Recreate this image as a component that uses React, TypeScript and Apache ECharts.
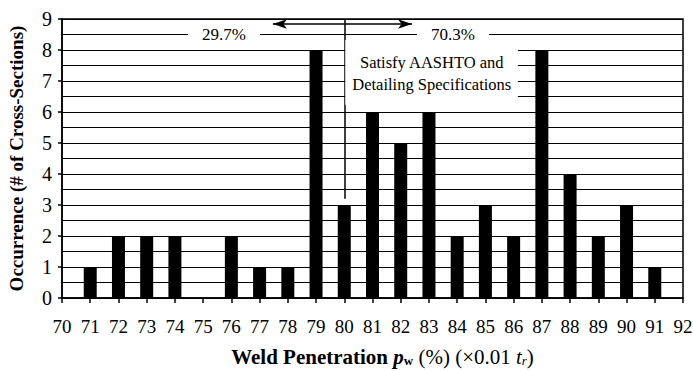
import React, { useEffect, useRef } from "react";
import * as echarts from "echarts";

const penetration = [71, 72, 73, 74, 75, 76, 77, 78, 79, 80, 81, 82, 83, 84, 85, 86, 87, 88, 89, 90, 91];
const occurrence = [1, 2, 2, 2, 0, 2, 1, 1, 8, 3, 6, 5, 6, 2, 3, 2, 8, 4, 2, 3, 1];
const xMin = 70;
const xMax = 92;
const yMax = 9;
const splitValue = 80;
const splitLineBottom = 3.2;
const arrowY = 8.84;
const arrowLeftEnd = 77.47;
const arrowRightEnd = 82.4;
const leftPct = "29.7%";
const rightPct = "70.3%";
const noteLines = ["Satisfy AASHTO and", "Detailing Specifications"];

const SERIF = "'Liberation Serif', 'Times New Roman', serif";

export default function App() {
  const ref = useRef<HTMLDivElement>(null);
  useEffect(() => {
    if (!ref.current) return;
    const chart = echarts.init(ref.current, null, { renderer: "svg" });
    chart.setOption({
      animation: false,
      backgroundColor: "#fff",
      grid: {
        left: 62,
        right: 10,
        top: 19,
        bottom: 73,
        show: true,
        borderColor: "#000",
        borderWidth: 1.5,
        containLabel: false,
        outerBoundsMode: "none",
      },
      xAxis: {
        type: "value",
        min: xMin,
        max: xMax,
        interval: 1,
        axisLine: { show: true, lineStyle: { color: "#000", width: 1.5 } },
        axisTick: { show: true, inside: false, length: 5, lineStyle: { color: "#000", width: 1.5 } },
        axisLabel: { color: "#000", fontFamily: SERIF, fontSize: 19, margin: 19 },
        splitLine: { show: false },
        name: "{b|Weld Penetration }{bi|p}{sub|w}{n| (%) (×0.01 }{i|t}{isub|r}{n|)}",
        nameLocation: "middle",
        nameGap: 48,
        nameTextStyle: {
          color: "#000",
          fontFamily: SERIF,
          padding: [0, 0, 0, 20],
          rich: {
            b: { fontFamily: SERIF, fontWeight: "bold", fontSize: 21, color: "#000" },
            bi: { fontFamily: SERIF, fontWeight: "bold", fontStyle: "italic", fontSize: 21, color: "#000" },
            sub: { fontFamily: SERIF, fontWeight: "bold", fontSize: 13, color: "#000", verticalAlign: "bottom", padding: [7, 0, 0, 0] },
            n: { fontFamily: SERIF, fontSize: 21, color: "#000" },
            i: { fontFamily: SERIF, fontStyle: "italic", fontSize: 21, color: "#000" },
            isub: { fontFamily: SERIF, fontStyle: "italic", fontSize: 13, color: "#000", verticalAlign: "bottom", padding: [7, 0, 0, 0] },
          },
        },
      },
      yAxis: {
        type: "value",
        min: 0,
        max: yMax,
        interval: 1,
        axisLine: { show: true, lineStyle: { color: "#000", width: 1.5 } },
        axisTick: { show: true, inside: false, length: 4, lineStyle: { color: "#000", width: 1.5 } },
        axisLabel: { color: "#000", fontFamily: SERIF, fontSize: 20, margin: 10 },
        splitLine: { show: true, lineStyle: { color: "#000", width: 1 } },
        minorTick: { show: false, splitNumber: 2 },
        minorSplitLine: { show: true, lineStyle: { color: "#000", width: 1 } },
        name: "Occurrence (# of Cross-Sections)",
        nameLocation: "middle",
        nameGap: 36,
        nameTextStyle: { color: "#000", fontFamily: SERIF, fontWeight: "bold", fontSize: 19 },
      },
      series: [
        {
          type: "bar",
          data: penetration.map((p, i) => [p, occurrence[i]]),
          barWidth: 13,
          itemStyle: { color: "#000" },
          markLine: {
            silent: true,
            symbol: ["none", "none"],
            label: { show: false },
            lineStyle: { color: "#000", width: 1.5, type: "solid" },
            data: [
              [{ coord: [splitValue, yMax] }, { coord: [splitValue, splitLineBottom] }],
              [
                { coord: [splitValue, arrowY], symbol: "none" },
                { coord: [arrowLeftEnd, arrowY], symbol: "arrow", symbolSize: [7, 14] },
              ],
              [
                { coord: [splitValue, arrowY], symbol: "none" },
                { coord: [arrowRightEnd, arrowY], symbol: "arrow", symbolSize: [7, 14] },
              ],
            ],
          },
        },
      ],
    });

    const px = (x: number, y: number) => chart.convertToPixel({ gridIndex: 0 }, [x, y]) as number[];
    const p1 = px(75.74, 8.5);
    const p2 = px(83.85, 8.5);
    const boxTL = px(splitValue, 8.32);
    const boxBR = px(86.15, 6.23);
    const t1 = px(83.1, 7.61);
    const t2 = px(83.1, 6.9);
    const pctStyle = (text: string) => ({
      text,
      fill: "#000",
      font: `17px ${SERIF}`,
      align: "center",
      verticalAlign: "middle",
      backgroundColor: "#fff",
      padding: [3, 14, 3, 14],
    });
    chart.setOption({
      graphic: [
        { type: "text", x: p1[0], y: p1[1], style: pctStyle(leftPct), z: 100 },
        { type: "text", x: p2[0], y: p2[1], style: pctStyle(rightPct), z: 100 },
        {
          type: "rect",
          shape: { x: boxTL[0] + 1, y: boxTL[1], width: boxBR[0] - boxTL[0] - 1, height: boxBR[1] - boxTL[1] },
          style: { fill: "#fff" },
          z: 100,
        },
        {
          type: "text",
          x: t1[0],
          y: t1[1],
          style: { text: noteLines[0], fill: "#000", font: `16.5px ${SERIF}`, align: "center", verticalAlign: "middle" },
          z: 101,
        },
        {
          type: "text",
          x: t2[0],
          y: t2[1],
          style: { text: noteLines[1], fill: "#000", font: `16.5px ${SERIF}`, align: "center", verticalAlign: "middle" },
          z: 101,
        },
      ],
    });
    return () => chart.dispose();
  }, []);
  return <div ref={ref} style={{ width: 693, height: 371, position: "absolute", left: 0, top: 0 }} />;
}
